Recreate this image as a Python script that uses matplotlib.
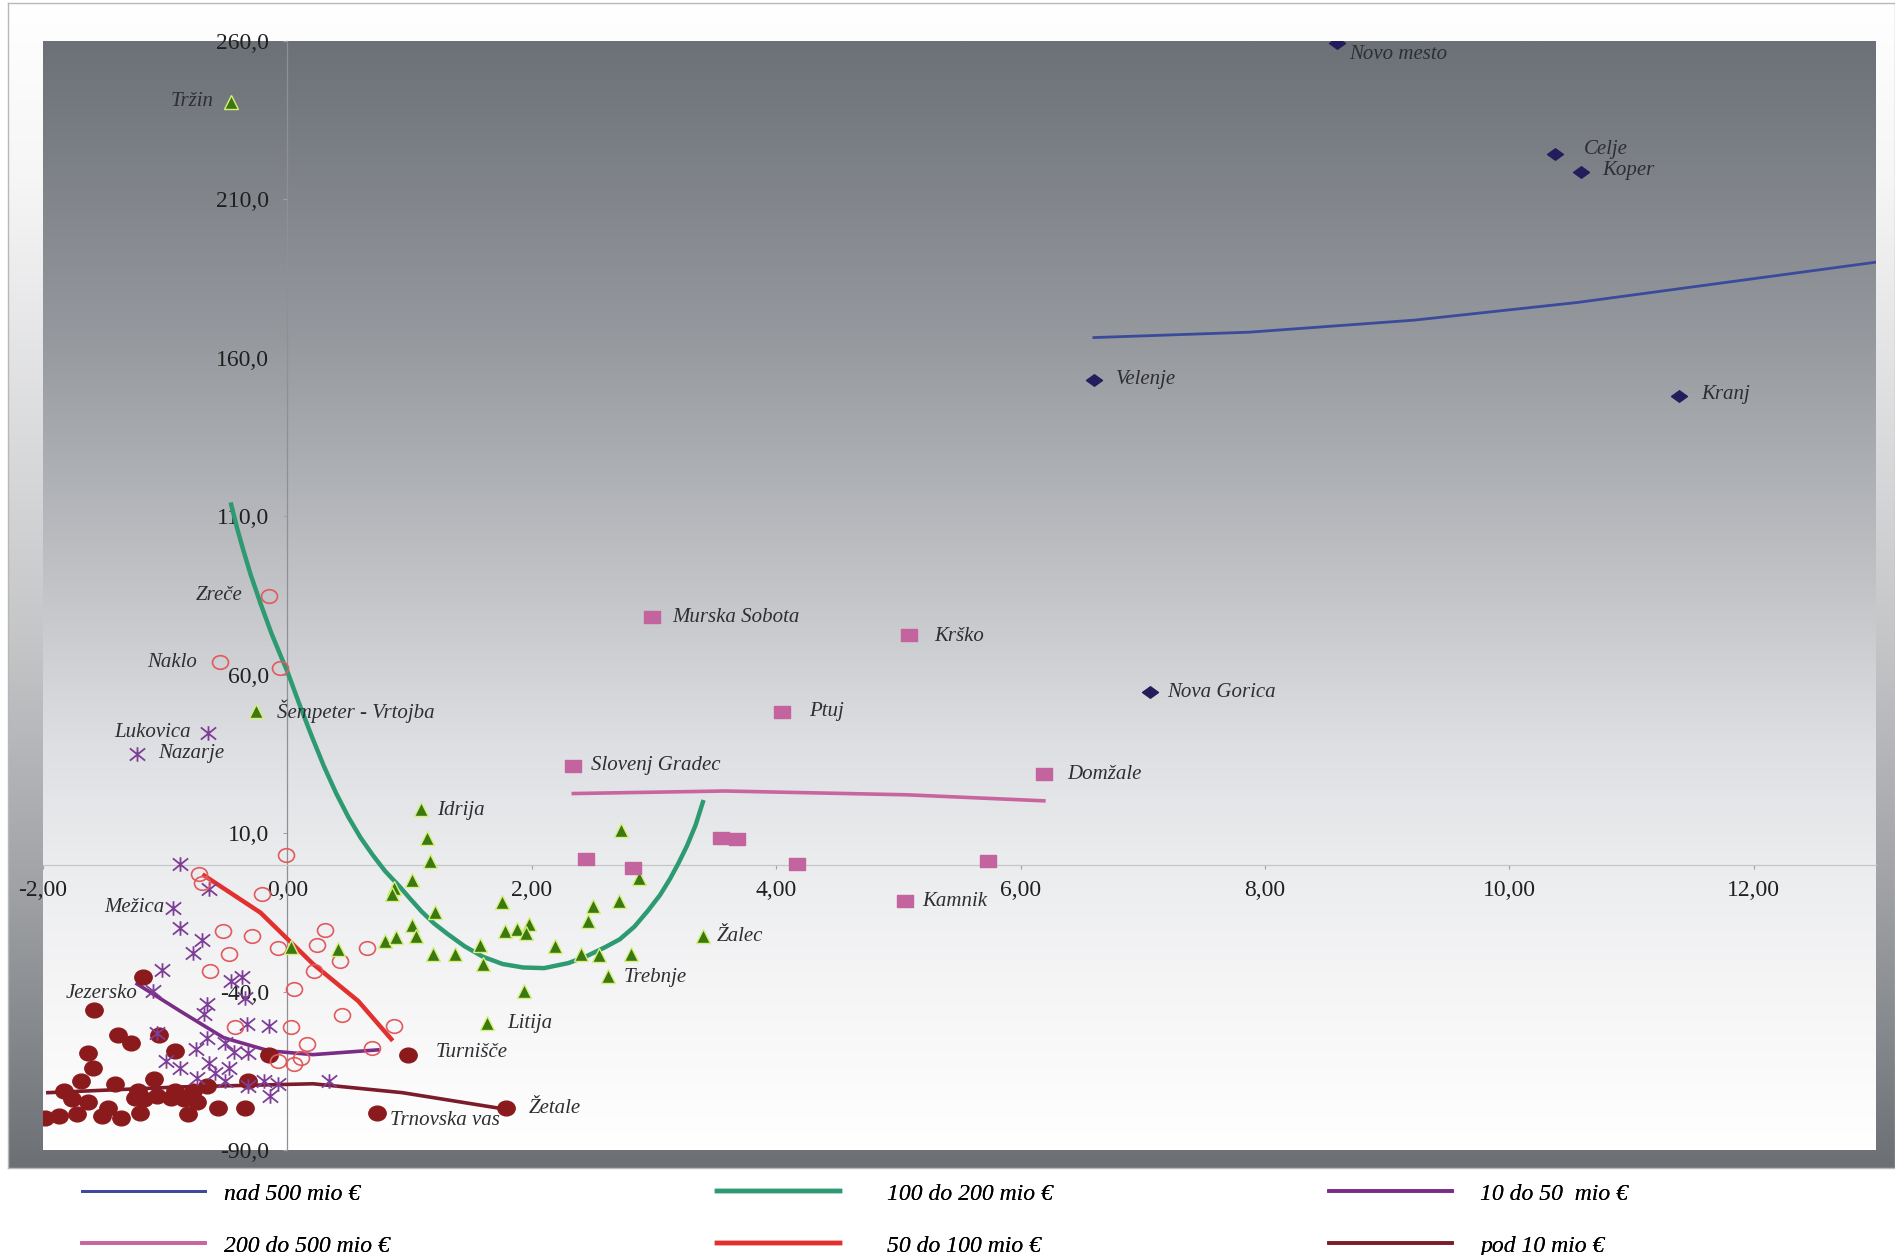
import numpy as np
import matplotlib
matplotlib.use("Agg")
import matplotlib.pyplot as plt
from matplotlib.path import Path
from matplotlib.ticker import FuncFormatter

# ---------------- data ----------------
# nad 500 mio EUR (blue diamonds)
blue_names = ["Novo mesto", "Celje", "Koper", "Velenje", "Kranj", "Nova Gorica"]
blue_x = [8.59, 10.37, 10.59, 6.60, 11.39, 7.06]
blue_y = [259.5, 224.4, 218.7, 153.1, 148.1, 54.6]
blue_trend_x = [6.60, 7.87, 9.22, 10.56, 13.0]
blue_trend_y = [166.4, 168.1, 171.9, 177.5, 190.2]

# 200 do 500 mio EUR (pink squares)
pink_names = ["Murska Sobota", "Krško", "Ptuj", "Slovenj Gradec", "Domžale",
              "", "", "", "", "", "", "Kamnik"]
pink_x = [2.98, 5.09, 4.05, 2.34, 6.19, 3.55, 3.68, 2.44, 2.83, 4.17, 5.73, 5.05]
pink_y = [78.2, 72.5, 48.1, 31.3, 28.6, 8.4, 8.0, 1.9, -1.1, 0.4, 1.1, -11.5]
pink_trend_x = [2.34, 3.58, 5.07, 6.19]
pink_trend_y = [22.5, 23.3, 22.1, 20.2]

# 100 do 200 mio EUR (green triangles)
green_names = ["Tržin", "Šempeter - Vrtojba", "Idrija", "Žalec", "Trebnje", "Litija"]
green_x = [-0.46, -0.26, 1.09, 3.40, 2.62, 1.63,
           1.14, 1.17, 2.73, 2.88, 1.94, 1.02, 0.87, 0.86, 1.21, 1.76, 2.50, 2.71,
           2.46, 1.02, 1.78, 1.88, 1.98, 1.95, 0.80, 0.89, 1.05, 0.03, 0.41, 1.19,
           1.37, 1.58, 2.19, 1.60, 2.40, 2.55, 2.81]
green_y = [240.8, 48.5, 17.6, -22.5, -35.1, -50.0,
           8.4, 1.1, 11.1, -4.2, -39.7, -4.7, -7.2, -9.2, -14.9, -11.8, -13.0, -11.5,
           -17.6, -19.1, -21.0, -20.2, -18.7, -21.4, -24.0, -22.9, -22.5, -26.0, -26.7, -28.2,
           -28.2, -25.2, -25.6, -31.3, -28.2, -28.6, -28.2]
green_trend_x = [-0.46, -0.41, -0.36, -0.30, -0.22, -0.13, -0.05, 0.00, 0.10, 0.20,
                 0.30, 0.40, 0.50, 0.60, 0.70, 0.80, 0.91, 1.00, 1.10, 1.20, 1.31,
                 1.45, 1.60, 1.76, 1.93, 2.10, 2.30, 2.45, 2.60, 2.72, 2.84, 2.95,
                 3.05, 3.13, 3.20, 3.27, 3.34, 3.40]
green_trend_y = [113.7, 106.0, 99.2, 91.5, 82.5, 73.0, 65.5, 61.0, 50.5, 40.5,
                 31.0, 22.5, 15.0, 8.5, 3.0, -2.0, -6.5, -10.5, -14.8, -18.5, -21.8,
                 -25.7, -29.0, -31.3, -32.4, -32.6, -31.0, -28.8, -26.0, -23.5, -19.5, -14.5,
                 -9.5, -4.5, 0.5, 6.0, 12.5, 19.8]

# 50 do 100 mio EUR (red open circles)
red_names = ["Zreče", "Naklo"]
red_x = [-0.15, -0.55, -0.06, -0.01, -0.72, -0.70, -0.21, -0.53, -0.29, 0.31, 0.24,
         -0.08, -0.48, 0.43, 0.65, -0.63, 0.22, 0.05, 0.45, -0.43, 0.03, 0.87, 0.16,
         0.69, -0.08, 0.05, 0.11]
red_y = [84.7, 64.1, 62.2, 3.1, -2.8, -5.7, -9.2, -20.8, -22.4, -20.6, -25.2,
         -26.3, -28.2, -30.2, -26.2, -33.6, -33.5, -39.1, -47.3, -51.1, -51.1, -50.8, -56.5,
         -57.8, -61.8, -62.8, -60.9]
red_trend_x = [-0.68, -0.22, 0.21, 0.58, 0.85]
red_trend_y = [-3.4, -15.1, -31.3, -43.0, -55.0]

# 10 do 50 mio EUR (purple asterisks)
purple_names = ["Lukovica", "Nazarje", "Mežica"]
purple_x = [-0.65, -1.23, -0.94, -0.88, -0.64, -0.88, -0.70, -0.77, -0.46, -0.37, -1.03,
            -0.35, -1.10, -0.66, -0.68, -0.33, -0.15, -1.07, -0.66, -0.51, -0.75, -0.44,
            -0.32, -0.99, -0.88, -0.64, -0.59, -0.48, -0.74, -0.51, -0.19, -0.08, 0.34,
            -0.14, -0.32]
purple_y = [41.6, 35.1, -13.5, 0.4, -7.6, -19.8, -23.6, -27.7, -36.6, -35.3, -33.2,
            -42.0, -39.7, -43.9, -47.0, -50.2, -50.8, -53.0, -54.6, -56.1, -58.0, -59.2,
            -59.5, -61.8, -64.1, -62.4, -65.6, -64.1, -67.2, -68.2, -68.2, -69.1, -68.2,
            -73.1, -69.8]
purple_trend_x = [-1.23, -0.88, -0.52, -0.15, 0.21, 0.74]
purple_trend_y = [-37.6, -46.1, -54.6, -58.7, -59.9, -58.4]

# pod 10 mio EUR (dark red filled circles)
dred_names = ["Jezersko", "Turnišče", "Žetale", "Trnovska vas"]
dred_x = [-1.18, 0.99, 1.79, 0.73, -1.58, -1.39, -1.28, -1.05, -0.92, -1.63, -1.59,
          -1.69, -1.41, -1.09, -1.83, -1.76, -1.63, -1.47, -1.25, -1.17, -1.07, -0.95,
          -0.85, -0.74, -1.98, -1.87, -1.72, -1.52, -1.36, -1.21, -0.81, -0.57, -0.35,
          -0.66, -0.32, -0.15, -1.22, -0.92, -0.77]
dred_y = [-35.5, -59.9, -76.7, -78.2, -45.8, -53.8, -56.1, -53.8, -58.8, -59.5, -64.1,
          -68.2, -69.1, -67.6, -71.4, -73.9, -75.0, -76.7, -73.5, -73.9, -72.9, -73.5,
          -73.9, -75.0, -79.8, -79.2, -78.6, -79.2, -79.8, -78.2, -78.6, -76.7, -76.7,
          -69.8, -68.2, -59.9, -71.4, -71.4, -71.4]
dred_trend_x = [-1.96, -0.88, 0.21, 0.94, 1.78]
dred_trend_y = [-71.9, -70.1, -69.1, -71.9, -77.1]

legend_labels = ["nad 500 mio €", "200 do 500 mio €", "100 do 200 mio €",
                 "50 do 100 mio €", "10 do 50  mio €", "pod 10 mio €"]

x_ticks = [-2, 0, 2, 4, 6, 8, 10, 12]
y_ticks = [-90, -40, 10, 60, 110, 160, 210, 260]

# ---------------- styling ----------------
W, H = 1895, 1255
fig = plt.figure(figsize=(W / 100, H / 100), dpi=100)
fig.patch.set_facecolor("white")
SERIF = ["Liberation Serif", "DejaVu Serif"]

def gradient_image(stops_f, stops_rgb, n=400):
    f = np.linspace(0, 1, n)
    arr = np.zeros((n, 1, 3))
    for c in range(3):
        arr[:, 0, c] = np.interp(f, stops_f, [s[c] for s in stops_rgb]) / 255.0
    return arr

# outer chart frame (light at top, dark at bottom)
fx0, fx1 = 8 / W, 1.0
fy0, fy1 = 1 - 1168 / H, 1 - 3 / H
frame = fig.add_axes([fx0, fy0, fx1 - fx0, fy1 - fy0], zorder=0)
frame.imshow(gradient_image([0, 0.15, 0.55, 0.76, 1.0],
                            [(255, 255, 255), (246, 246, 247), (196, 197, 199),
                             (160, 162, 165), (108, 112, 117)]),
             aspect="auto", extent=[0, 1, 0, 1], transform=frame.transAxes)
frame.set_xticks([]); frame.set_yticks([])
for s in frame.spines.values():
    s.set_color("#b8b8b8"); s.set_linewidth(1)

# main plot area
ax = fig.add_axes([43 / W, 1 - 1150 / H, (1876 - 43) / W, (1150 - 41) / H], zorder=1)
ax.imshow(gradient_image([0, 0.27, 0.635, 0.74, 0.855, 1.0],
                         [(108, 113, 119), (150, 153, 158), (222, 223, 226),
                          (235, 236, 238), (245, 245, 246), (255, 255, 255)]),
          aspect="auto", extent=[0, 1, 0, 1], transform=ax.transAxes, zorder=0)
ax.set_xlim(-2, 13)
ax.set_ylim(-90, 260)

ax.spines["left"].set_position(("data", 0))
ax.spines["bottom"].set_position(("data", 0))
ax.spines["left"].set_color("#8e9095")
ax.spines["bottom"].set_color("#c4c6c9")
ax.spines["left"].set_linewidth(0.9)
ax.spines["bottom"].set_linewidth(0.9)
ax.spines["top"].set_visible(False)
ax.spines["right"].set_visible(False)
ax.set_xticks(x_ticks)
ax.set_yticks(y_ticks)
ax.xaxis.set_major_formatter(FuncFormatter(lambda v, p: f"{v:.2f}".replace(".", ",")))
ax.yaxis.set_major_formatter(FuncFormatter(lambda v, p: f"{v:.1f}".replace(".", ",")))
ax.tick_params(axis="both", direction="out", length=3, color="#a0a2a5", width=0.8,
               labelsize=17, labelcolor="#202020")
ax.tick_params(axis="y", pad=10)
ax.tick_params(axis="x", pad=8)
for lab in ax.get_xticklabels() + ax.get_yticklabels():
    lab.set_family(SERIF)
ax.set_facecolor("none")

# custom marker shapes (slightly wide, as in the reference)
diamond = Path([(-1, 0), (0, 0.72), (1, 0), (0, -0.72), (-1, 0)],
               [Path.MOVETO, Path.LINETO, Path.LINETO, Path.LINETO, Path.CLOSEPOLY])
rect = Path([(-1, -0.8), (1, -0.8), (1, 0.8), (-1, 0.8), (-1, -0.8)],
            [Path.MOVETO, Path.LINETO, Path.LINETO, Path.LINETO, Path.CLOSEPOLY])
circ = Path.unit_circle()
ellipse = Path(circ.vertices * np.array([1.0, 0.85]), circ.codes)
star = Path([(-1, -0.8), (1, 0.8), (-1, 0.8), (1, -0.8), (0, -0.95), (0, 0.95)],
            [Path.MOVETO, Path.LINETO, Path.MOVETO, Path.LINETO, Path.MOVETO, Path.LINETO])

C_BLUE_LINE = "#3b4a9a"
C_PINK_LINE = "#c8649e"
C_GREEN_LINE = "#2e9a72"
C_RED_LINE = "#e2302f"
C_PURPLE_LINE = "#7a2d86"
C_DRED_LINE = "#7c1c2a"

# trend lines
lines = {}
lines["nad"] = ax.plot(blue_trend_x, blue_trend_y, color=C_BLUE_LINE, lw=2.0, zorder=3)[0]
lines["200"] = ax.plot(pink_trend_x, pink_trend_y, color=C_PINK_LINE, lw=2.6, zorder=3)[0]
lines["100"] = ax.plot(green_trend_x, green_trend_y, color=C_GREEN_LINE, lw=3.2, zorder=3,
                       solid_joinstyle="round")[0]
lines["50"] = ax.plot(red_trend_x, red_trend_y, color=C_RED_LINE, lw=3.2, zorder=3)[0]
lines["10"] = ax.plot(purple_trend_x, purple_trend_y, color=C_PURPLE_LINE, lw=2.6, zorder=3)[0]
lines["pod"] = ax.plot(dred_trend_x, dred_trend_y, color=C_DRED_LINE, lw=2.6, zorder=3)[0]

# scatter series
ax.plot(dred_x, dred_y, ls="none", marker=ellipse, ms=12.5, mfc="#8a1a1c",
        mec="#8a1a1c", zorder=4)
ax.plot(purple_x, purple_y, ls="none", marker=star, ms=11, mfc="none", mec="#7e3d96",
        mew=1.3, zorder=5)
ax.plot(red_x, red_y, ls="none", marker=ellipse, ms=11.5, mfc="none", mec="#e05a5e",
        mew=1.2, zorder=5)
ax.plot(green_x, green_y, ls="none", marker="^", ms=10, mfc="#3c7812", mec="#d6f07c",
        mew=1.0, zorder=5)
ax.plot(pink_x, pink_y, ls="none", marker=rect, ms=11.5, mfc="#c4649f", mec="#c4649f",
        zorder=5)
ax.plot(blue_x, blue_y, ls="none", marker=diamond, ms=11.5, mfc="#231d5c", mec="#231d5c",
        zorder=5)

# point labels: offsets in pixels (dx, dy, ha)
label_offsets = {
    "Novo mesto": (12, -12, "left"), "Celje": (29, 4, "left"), "Koper": (21, 1, "left"),
    "Velenje": (22, 0, "left"), "Kranj": (22, 1, "left"), "Nova Gorica": (17, -1, "left"),
    "Murska Sobota": (21, 0, "left"), "Krško": (25, -1, "left"), "Ptuj": (27, 1, "left"),
    "Slovenj Gradec": (18, 0, "left"), "Domžale": (23, 0, "left"), "Kamnik": (18, 0, "left"),
    "Tržin": (-18, 0, "right"), "Šempeter - Vrtojba": (21, 0, "left"),
    "Idrija": (16, -1, "left"), "Žalec": (14, 0, "left"), "Trebnje": (16, -1, "left"),
    "Litija": (21, 0, "left"), "Zreče": (-27, 1, "right"), "Naklo": (-23, -1, "right"),
    "Lukovica": (-17, 1, "right"), "Nazarje": (21, 0, "left"), "Mežica": (-8, 0, "right"),
    "Jezersko": (-6, -16, "right"), "Turnišče": (27, 2, "left"),
    "Trnovska vas": (13, -8, "left"), "Žetale": (23, -1, "left"),
}

def put_labels(names, xs, ys):
    for name, x, y in zip(names, xs, ys):
        if not name:
            continue
        dx, dy, ha = label_offsets[name]
        ax.annotate(name, (x, y), xytext=(dx, dy), textcoords="offset pixels",
                    ha=ha, va="center", fontsize=15, style="italic",
                    family=SERIF, color="#2e2e33", zorder=6)

put_labels(blue_names, blue_x, blue_y)
put_labels(pink_names, pink_x, pink_y)
put_labels(green_names, green_x, green_y)
put_labels(red_names, red_x, red_y)
put_labels(purple_names, purple_x, purple_y)
put_labels(dred_names, dred_x, dred_y)

# legend in three columns below the plot
order = ["nad", "200", "100", "50", "10", "pod"]
handles = [lines[k] for k in order]
col_x = [82 / W, 717 / W, 1329 / W]
col_textpad = [0.8, 2.0, 1.2]
for i in range(3):
    leg = fig.legend(handles[2 * i:2 * i + 2], legend_labels[2 * i:2 * i + 2],
                     loc="upper left", bbox_to_anchor=(col_x[i], 1 - 1183 / H),
                     frameon=False, borderpad=0, borderaxespad=0, handlelength=5.2,
                     handletextpad=col_textpad[i], labelspacing=1.3,
                     prop={"family": SERIF, "style": "italic", "size": 17})
    fig.add_artist(leg)

fig.savefig("out.png", dpi=100, facecolor="white")
